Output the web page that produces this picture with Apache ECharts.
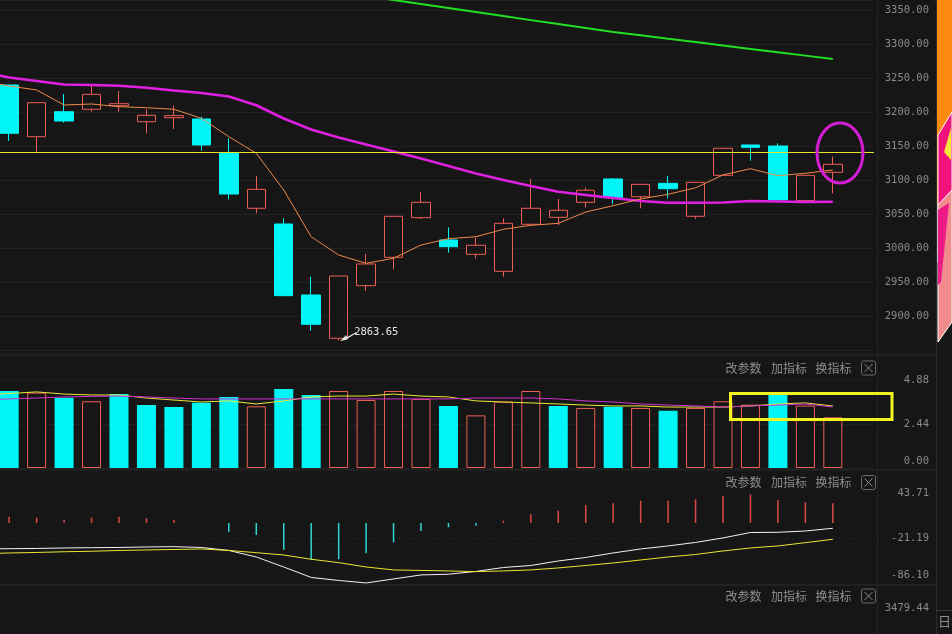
<!DOCTYPE html>
<html><head><meta charset="utf-8">
<script src="https://cdn.jsdelivr.net/npm/echarts@6/dist/echarts.min.js"></script>
<style>html,body{margin:0;padding:0;background:#161616;overflow:hidden;width:952px;height:634px;position:relative;}#c{position:absolute;left:-32px;top:0;width:984px;height:634px;}</style>
</head><body><div id="c"></div>
<script>
// ---------- data ----------
const categories = ['D00','D01','D02','D03','D04','D05','D06','D07','D08','D09','D10','D11','D12','D13','D14','D15','D16','D17','D18','D19','D20','D21','D22','D23','D24','D25','D26','D27','D28','D29','D30','D31','D32'];
const candleOpen  = [3239.7,3163.7,3200.4,3204.0,3209.3,3185.7,3191.6,3189.7,3139.3,3058.4,3035.3,2930.9,2867.2,2944.6,2986.3,3044.6,3011.8,2990.7,2965.7,3034.9,3045.1,3067.2,3101.5,3075.4,3095.1,3046.6,3106.9,3151.5,3150.0,3069.6,3111.3];
const candleClose = [3168.7,3213.7,3186.8,3226.0,3212.2,3195.1,3194.6,3151.5,3079.4,3086.3,2929.9,2887.8,2958.8,2976.5,3046.6,3067.2,3001.9,3004.0,3036.3,3058.4,3055.4,3084.9,3074.0,3093.6,3087.2,3096.6,3146.6,3148.0,3070.6,3106.9,3123.1];
const candleLow   = [3157.4,3141.6,3184.3,3200.4,3200.4,3168.7,3175.0,3143.1,3071.6,3051.0,2929.9,2878.4,2863.65,2936.8,2968.7,3042.6,2993.1,2984.3,2957.8,3033.8,3033.8,3059.3,3064.3,3058.4,3073.0,3043.0,3106.9,3128.4,3070.6,3069.6,3080.4];
const candleHigh  = [3240.5,3214.0,3226.5,3238.7,3230.9,3204.0,3209.3,3193.1,3161.3,3105.9,3043.6,2957.8,2958.8,2991.2,3046.6,3081.9,3030.4,3015.1,3043.7,3101.5,3072.1,3088.7,3102.9,3093.6,3105.9,3096.6,3146.6,3151.5,3154.0,3106.9,3134.3];
// moving averages (index 0 = bar just left of the view)
const maFast = [3245.6,3238.2,3232.4,3210.3,3211.8,3207.8,3206.3,3204.0,3190.7,3163.7,3139.3,3085.3,3016.6,2989.7,2977.5,2984.9,3004.4,3013.7,3016.6,3027.5,3033.4,3036.3,3052.9,3062.2,3072.1,3079.0,3088.5,3107.4,3116.6,3106.3,3109.9,3114.7];
const maSlow = [3258.8,3250.7,3245.6,3240.4,3239.7,3238.7,3235.6,3231.6,3227.9,3222.8,3209.9,3190.4,3174.3,3162.5,3152.2,3141.9,3131.6,3120.6,3109.6,3100.0,3091.2,3082.8,3077.9,3073.5,3069.1,3066.6,3066.6,3066.9,3069.1,3068.4,3067.6,3068.1];
const maLong = ['-','-','-','-','-','-','-','-','-','-','-','-','-',3376.5,3370.6,3364.7,3358.7,3352.9,3346.9,3341.2,3335.1,3329.4,3323.5,3317.6,3312.8,3307.6,3302.8,3297.8,3292.8,3287.8,3282.9,3277.9];
const hLineValue = 3140.4;
const lowMarkValue = 2863.65;
// volume
const volume = [4.27,4.18,3.90,3.70,4.10,3.49,3.38,3.62,3.94,3.42,4.38,4.05,4.27,3.77,4.27,3.83,3.44,2.92,3.68,4.27,3.44,3.33,3.40,3.33,3.18,3.33,3.70,3.51,4.09,3.46,2.81];
const volDir = ['d','u','d','u','d','d','d','d','d','u','d','d','u','u','u','u','d','u','u','u','d','u','d','u','d','u','u','u','d','u','u'];
const volMa5  = [4.05,4.13,4.22,4.10,4.05,4.05,3.88,3.77,3.66,3.72,3.55,3.72,3.94,3.99,3.99,4.10,3.99,3.94,3.72,3.66,3.61,3.55,3.49,3.44,3.44,3.38,3.38,3.38,3.44,3.55,3.61,3.44];
const volMa10 = [3.77,3.83,3.88,3.94,3.97,3.99,3.94,3.88,3.83,3.83,3.83,3.83,3.83,3.83,3.83,3.83,3.83,3.83,3.88,3.88,3.88,3.83,3.72,3.66,3.55,3.49,3.44,3.38,3.44,3.49,3.55,3.38];
// MACD
const macdHist = [8.8,7.4,4.2,7.4,8.8,6.5,4.2,0,-12.1,-16.8,-37.7,-51.7,-50.7,-42.3,-27.0,-11.2,-6.0,-3.8,3.2,12.2,17.2,25.1,27.5,31.1,31.1,33.1,37.7,40.1,32.1,28.9,27.5];
const macdDif = [-36.3,-35.9,-35.6,-34.9,-34.5,-34.2,-33.5,-33.1,-34.2,-38.4,-47.5,-61.5,-76.1,-80.3,-83.8,-78.2,-72.6,-71.6,-67.7,-62.2,-59.4,-53.1,-48.2,-41.9,-36.3,-32.1,-27.2,-20.9,-13.3,-13.0,-11.2,-7.4];
const macdDea = [-43.0,-41.9,-41.2,-40.2,-39.5,-38.4,-37.7,-37.0,-36.3,-38.4,-41.5,-44.7,-50.7,-55.4,-61.5,-65.6,-66.3,-67.0,-68.0,-67.0,-65.6,-62.8,-59.4,-55.9,-51.7,-47.5,-44.0,-39.1,-34.9,-32.1,-27.5,-22.8];
// axis ticks
const priceMin = 2850, priceMax = 3364.7, priceStep = 50;
const volTicks = [0, 2.44, 4.88];
const macdTicks = [-86.10, -21.19, 43.71];
const lastPanelTicks = [3479.44];
const headerItems = ['改参数', '加指标', '换指标'];

// ---------- styling ----------
const BG = '#161616', RED = '#ef5e55', CYAN = '#00f6f6', AX = '#8a8a8a';
const MONO = 'DejaVu Sans Mono';
const SHIFT = 32; // canvas starts 32px left of the page
const padEnds = a => ['-', ...a, '-'];
const padEnd = a => [...a, '-'];

const candleData = padEnds(candleOpen.map((o, i) => [o, candleClose[i], candleLow[i], candleHigh[i]]));
const volData = padEnds(volume.map((v, i) => ({
  value: v,
  itemStyle: volDir[i] === 'u' ? { color: BG, borderColor: RED, borderWidth: 1 } : { color: CYAN, borderColor: CYAN, borderWidth: 0 }
})));
const histData = padEnds(macdHist.map(v => ({ value: v, itemStyle: { color: v >= 0 ? '#e04848' : '#30d8d8' } })));

const L = 0, R = 78;
const grids = [
  { left: L, right: R, top: 0, height: 350 },
  { left: L, right: R, top: 380, height: 88 },
  { left: L, right: R, top: 491.7, height: 92.9 },
  { left: L, right: R, top: 608, height: 60 }
];
const xAxes = grids.map((g, i) => ({
  type: 'category', gridIndex: i, data: categories, boundaryGap: true,
  axisLine: { show: false }, axisTick: { show: false }, axisLabel: { show: false }, splitLine: { show: false }
}));
const labelBase = { color: AX, fontFamily: MONO, fontSize: 10.5, align: 'right', margin: 55 };
const yAxes = [
  { type: 'value', gridIndex: 0, position: 'right', min: priceMin, max: priceMax, interval: priceStep, scale: true,
    axisLine: { show: false }, axisTick: { show: false },
    splitLine: { lineStyle: { color: '#222222', width: 1 } },
    axisLabel: Object.assign({}, labelBase, { showMinLabel: false, showMaxLabel: false, formatter: v => v.toFixed(2) }) },
  { type: 'value', gridIndex: 1, position: 'right', min: volTicks[0], max: volTicks[2], interval: volTicks[1],
    axisLine: { show: false }, axisTick: { show: false },
    splitLine: { lineStyle: { color: '#202020' } },
    axisLabel: Object.assign({}, labelBase, {
      formatter: v => v === 0 ? '{lo|' + v.toFixed(2) + '}' : v.toFixed(2),
      rich: { lo: { color: AX, fontFamily: MONO, fontSize: 10.5, padding: [0, 0, 14, 0] } } }) },
  { type: 'value', gridIndex: 2, position: 'right', min: macdTicks[0], max: macdTicks[2],
    axisLine: { show: false }, axisTick: { show: false, customValues: macdTicks },
    splitLine: { lineStyle: { color: '#232323', type: [2, 3] } },
    axisLabel: Object.assign({}, labelBase, { customValues: macdTicks,
      formatter: v => Math.abs(v - macdTicks[0]) < 1e-6 ? '{lo|' + v.toFixed(2) + '}' : (Math.abs(v - macdTicks[2]) < 1e-6 ? '{hi|' + v.toFixed(2) + '}' : v.toFixed(2)),
      rich: { lo: { color: AX, fontFamily: MONO, fontSize: 10.5, padding: [0, 0, 19, 0] },
              hi: { color: AX, fontFamily: MONO, fontSize: 10.5, padding: [4, 0, 0, 0] } } }) },
  { type: 'value', gridIndex: 3, position: 'right', min: 3400, max: lastPanelTicks[0],
    axisLine: { show: false }, axisTick: { show: false, customValues: lastPanelTicks }, splitLine: { show: false },
    axisLabel: Object.assign({}, labelBase, { customValues: lastPanelTicks, formatter: v => v.toFixed(2) }) }
];

const arrowPath = 'path://M0,10 L6,4 L7.5,8.5 Z M5,7.2 L16,1 L16,2.2 L5.8,8.4 Z';

const series = [
  { type: 'candlestick', xAxisIndex: 0, yAxisIndex: 0, data: candleData, barWidth: 19,
    itemStyle: { color: BG, color0: CYAN, borderColor: RED, borderColor0: CYAN, borderWidth: 1 },
    markLine: { silent: true, symbol: ['none', 'none'], label: { show: false },
      lineStyle: { color: '#e6e62a', width: 1, type: 'solid' }, data: [{ yAxis: hLineValue }] },
    markPoint: { silent: true, symbol: arrowPath, symbolSize: [16, 9], symbolOffset: [9.5, -4.2],
      itemStyle: { color: '#e6e6e6' },
      label: { show: true, position: [14, -5], color: '#e6e6e6', fontFamily: MONO, fontSize: 10.5, formatter: p => p.value.toFixed(2) },
      data: [{ coord: [categories[13], lowMarkValue], value: lowMarkValue }] } },
  { type: 'line', xAxisIndex: 0, yAxisIndex: 0, data: padEnd(maSlow), symbol: 'none', lineStyle: { color: '#e020e0', width: 2.6 }, z: 3 },
  { type: 'line', xAxisIndex: 0, yAxisIndex: 0, data: padEnd(maFast), symbol: 'none', lineStyle: { color: '#f08a4a', width: 1 }, z: 4 },
  { type: 'line', xAxisIndex: 0, yAxisIndex: 0, data: padEnd(maLong), symbol: 'none', lineStyle: { color: '#22e022', width: 2 }, z: 3 },
  { type: 'bar', xAxisIndex: 1, yAxisIndex: 1, data: volData, barWidth: 19 },
  { type: 'line', xAxisIndex: 1, yAxisIndex: 1, data: padEnd(volMa5), symbol: 'none', lineStyle: { color: '#e8e83a', width: 1 } },
  { type: 'line', xAxisIndex: 1, yAxisIndex: 1, data: padEnd(volMa10), symbol: 'none', lineStyle: { color: '#d030d0', width: 1 } },
  { type: 'bar', xAxisIndex: 2, yAxisIndex: 2, data: histData, barWidth: 1.5 },
  { type: 'line', xAxisIndex: 2, yAxisIndex: 2, data: padEnd(macdDif), symbol: 'none', lineStyle: { color: '#f2f2f2', width: 1 } },
  { type: 'line', xAxisIndex: 2, yAxisIndex: 2, data: padEnd(macdDea), symbol: 'none', lineStyle: { color: '#e8e830', width: 1 } },
  { type: 'line', xAxisIndex: 3, yAxisIndex: 3, data: [], symbol: 'none' }
];

// ---------- decorations (page coordinates, shifted into canvas space by a group) ----------
const deco = [];
const SEP = '#2a2a2a';
[355, 470, 585].forEach(y => deco.push({ type: 'line', shape: { x1: 0, y1: y, x2: 936, y2: y }, style: { stroke: SEP, lineWidth: 1 }, silent: true }));
deco.push({ type: 'line', shape: { x1: 877.5, y1: 0, x2: 877.5, y2: 634 }, style: { stroke: '#242424', lineWidth: 1 }, silent: true });
deco.push({ type: 'line', shape: { x1: 936.5, y1: 0, x2: 936.5, y2: 634 }, style: { stroke: '#2c2c2c', lineWidth: 1 }, silent: true });
function header(yc) {
  const xs = [725.5, 771, 815.5];
  headerItems.forEach((t, i) => deco.push({ type: 'text', x: xs[i], y: yc, silent: true,
    style: { text: t, fill: '#8e8e8e', font: '12px "Noto Sans CJK SC"', textVerticalAlign: 'middle' } }));
  deco.push({ type: 'rect', shape: { x: 861.5, y: yc - 7, width: 14, height: 14, r: 2 }, style: { fill: 'none', stroke: '#6a6a6a', lineWidth: 1 }, silent: true });
  deco.push({ type: 'line', shape: { x1: 864.5, y1: yc - 4, x2: 872.5, y2: yc + 4 }, style: { stroke: '#8a8a8a', lineWidth: 1 }, silent: true });
  deco.push({ type: 'line', shape: { x1: 872.5, y1: yc - 4, x2: 864.5, y2: yc + 4 }, style: { stroke: '#8a8a8a', lineWidth: 1 }, silent: true });
}
header(368); header(482.5); header(596);
// hand-drawn markers
deco.push({ type: 'ellipse', shape: { cx: 840, cy: 153, rx: 23, ry: 30 }, style: { fill: 'none', stroke: '#d41ed4', lineWidth: 3 }, z: 100, silent: true });
deco.push({ type: 'rect', shape: { x: 730.5, y: 393.5, width: 161.5, height: 26 }, style: { fill: 'none', stroke: '#f2f21e', lineWidth: 3 }, z: 100, silent: true });
// cut-off side panel on the right edge
deco.push({ type: 'rect', shape: { x: 937, y: 0, width: 15, height: 205 }, style: { fill: '#ff8a12' }, silent: true });
deco.push({ type: 'polygon', shape: { points: [[938, 135], [952, 112], [952, 215], [938, 262]] }, style: { fill: '#f2127e', stroke: '#ffffff', lineWidth: 1 }, silent: true });
deco.push({ type: 'polygon', shape: { points: [[944, 152], [951, 128], [951, 160]] }, style: { fill: '#f5e63c' }, silent: true });
deco.push({ type: 'polygon', shape: { points: [[938, 205], [952, 190], [952, 322], [938, 342]] }, style: { fill: '#f28c8c', stroke: '#ffffff', lineWidth: 1 }, silent: true });
deco.push({ type: 'polygon', shape: { points: [[938, 210], [949, 203], [941, 282], [938, 285]] }, style: { fill: '#ee1a88' }, silent: true });
deco.push({ type: 'line', shape: { x1: 936, y1: 610.5, x2: 952, y2: 610.5 }, style: { stroke: '#3a3a3a', lineWidth: 1 }, silent: true });
deco.push({ type: 'text', x: 938, y: 621, silent: true, style: { text: '日', fill: '#8e8e8e', font: '13px "Noto Sans CJK SC"', textVerticalAlign: 'middle' } });

const chart = echarts.init(document.getElementById('c'), null, { renderer: 'canvas' });
chart.setOption({
  backgroundColor: BG,
  animation: false,
  grid: grids,
  xAxis: xAxes,
  yAxis: yAxes,
  series: series,
  graphic: [{ type: 'group', x: SHIFT, y: 0, children: deco }]
});
</script>
</body></html>
